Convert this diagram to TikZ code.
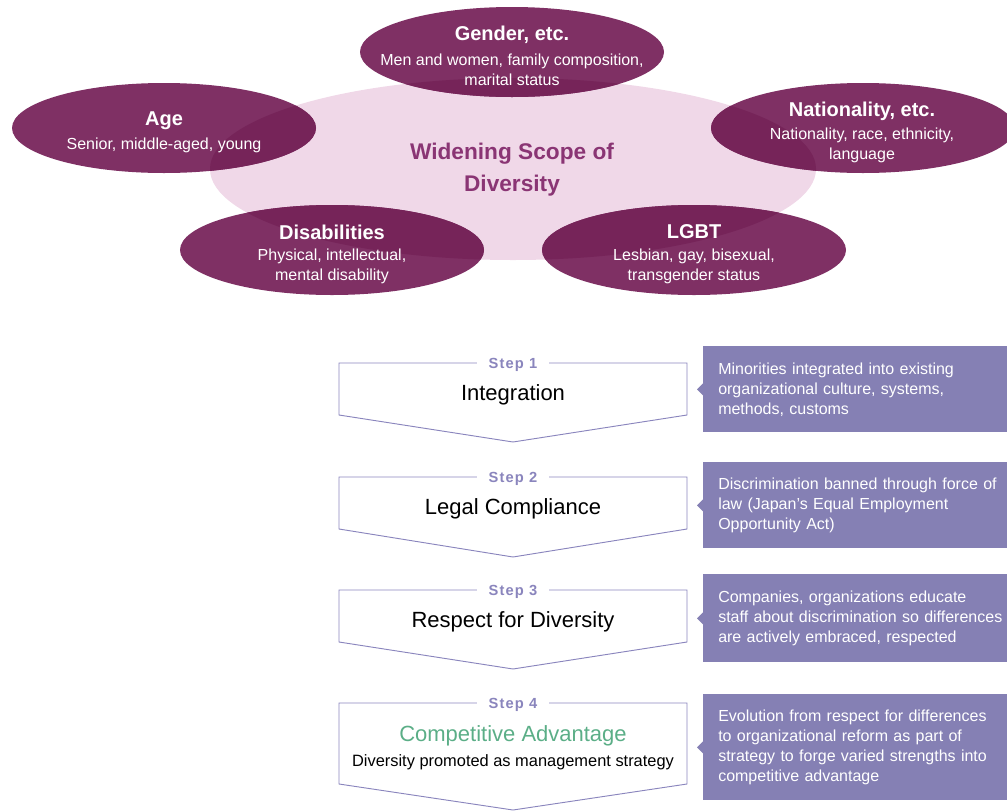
\documentclass[tikz,border=0pt]{standalone}
\usepackage{fontspec}
\setmainfont{Liberation Sans}
\newfontfamily\steptagfont[LetterSpace=8]{Liberation Sans}
\usepackage{tikz}
\usetikzlibrary{shapes.geometric}

\definecolor{catpurple}{HTML}{7F3064}
\definecolor{catdark}{HTML}{762459}
\definecolor{scopepink}{HTML}{F0D8E8}
\definecolor{scopetext}{HTML}{8A3574}
\definecolor{steplilac}{HTML}{8A85BD}
\definecolor{noteviolet}{HTML}{8580B4}
\definecolor{advgreen}{HTML}{5BAE87}

\tikzset{
  cat/.style={ellipse,minimum width=228pt,minimum height=67.5pt,inner sep=0pt,fill=catpurple},
  cathead/.style={text=white,yshift=-1.5pt,font=\bfseries\fontsize{15}{18}\selectfont},
  catsub/.style={text=white,align=center,inner sep=0pt,yshift=-1.5pt,font=\fontsize{12}{15}\selectfont},
  scopetitle/.style={text=scopetext,align=center,yshift=-1.5pt,font=\bfseries\fontsize{17}{24}\selectfont},
  stepline/.style={draw=steplilac,line width=0.7pt},
  steptag/.style={fill=white,text=steplilac,inner xsep=9pt,inner ysep=1pt,yshift=-1.5pt,
    font=\steptagfont\bfseries\fontsize{11}{13}\selectfont},
  stepname/.style={yshift=-1.5pt,font=\fontsize{16.5}{20}\selectfont},
  stepsub/.style={yshift=-1.5pt,font=\fontsize{12.3}{15}\selectfont},
  note/.style={fill=noteviolet,text=white,anchor=north west,align=left,
    text width=225pt,inner xsep=11.25pt,inner ysep=0pt,
    font=\fontsize{12}{15}\selectfont},
}

\begin{document}
\begin{tikzpicture}[x=0.75pt,y=-0.75pt]
  \useasboundingbox (0,0) rectangle (1007,811);
  \clip (0,0) rectangle (1007,811);

  % scope of diversity
  \fill[scopepink] (513,169) ellipse [x radius=303, y radius=91];
  \node[cat] (gender) at (512,52) {};
  \node[cat] (age) at (164,128) {};
  \node[cat] (nation) at (863,128) {};
  \node[cat] (disab) at (332,250) {};
  \node[cat] (lgbt) at (694,250) {};
  \begin{scope}
    \clip (513,169) ellipse [x radius=303, y radius=91];
    \foreach \c in {gender,age,nation,disab,lgbt}
      \fill[catdark] (\c.center) ellipse [x radius=152, y radius=45];
  \end{scope}

  \node[scopetitle] (scope) at (512,168) {Widening Scope of\\Diversity};
  \node[cathead] (genderhead) at (512,33) {Gender, etc.};
  \node[catsub] (gendersub) at (512,68) {Men and women, family composition,\\marital status};
  \node[cathead] (agehead) at (164,119) {Age};
  \node[catsub] (agesub) at (164,143) {Senior, middle-aged, young};
  \node[cathead] (nationhead) at (862,109) {Nationality, etc.};
  \node[catsub] (nationsub) at (862,143) {Nationality, race, ethnicity,\\language};
  \node[cathead] (disabhead) at (332,230) {Disabilities};
  \node[catsub] (disabsub) at (332,264) {Physical, intellectual,\\mental disability};
  \node[cathead] (lgbthead) at (694,230) {LGBT};
  \node[catsub] (lgbtsub) at (694,264) {Lesbian, gay, bisexual,\\transgender status};

  % steps
  \draw[stepline] (339,363) -- (339,415) -- (513,442) -- (687,415) -- (687,363) -- cycle;
  \node[steptag] (tag1) at (513,363) {Step 1};
  \node[stepname] (step1) at (513,393) {Integration};

  \draw[stepline] (339,477) -- (339,529) -- (513,557) -- (687,529) -- (687,477) -- cycle;
  \node[steptag] (tag2) at (513,477) {Step 2};
  \node[stepname] (step2) at (513,507) {Legal Compliance};

  \draw[stepline] (339,590) -- (339,642) -- (513,669) -- (687,642) -- (687,590) -- cycle;
  \node[steptag] (tag3) at (513,590) {Step 3};
  \node[stepname] (step3) at (513,620) {Respect for Diversity};

  \draw[stepline] (339,703) -- (339,784) -- (513,810) -- (687,784) -- (687,703) -- cycle;
  \node[steptag] (tag4) at (513,703) {Step 4};
  \node[stepname,text=advgreen] (step4) at (513,734) {Competitive Advantage};
  \node[stepsub] (step4sub) at (513,760) {Diversity promoted as management strategy};

  % notes
  \node[note,minimum height=64.5pt] (note1) at (703,346)
    {Minorities integrated into existing\\organizational culture, systems,\\methods, customs};
  \node[note,minimum height=64.5pt] (note2) at (703,462)
    {Discrimination banned through force of\\law (Japan’s Equal Employment\\Opportunity Act)};
  \node[note,minimum height=66pt] (note3) at (703,574)
    {Companies, organizations educate\\staff about discrimination so differences\\are actively embraced, respected};
  \node[note,minimum height=79.5pt] (note4) at (703,694)
    {Evolution from respect for differences\\to organizational reform as part of\\strategy to forge varied strengths into\\competitive advantage};
  \foreach \n in {note1,note2,note3,note4}
    \fill[noteviolet] (\n.west) ++(0,-6) -- ++(-6,6) -- ++(6,6) -- cycle;
\end{tikzpicture}
\end{document}
